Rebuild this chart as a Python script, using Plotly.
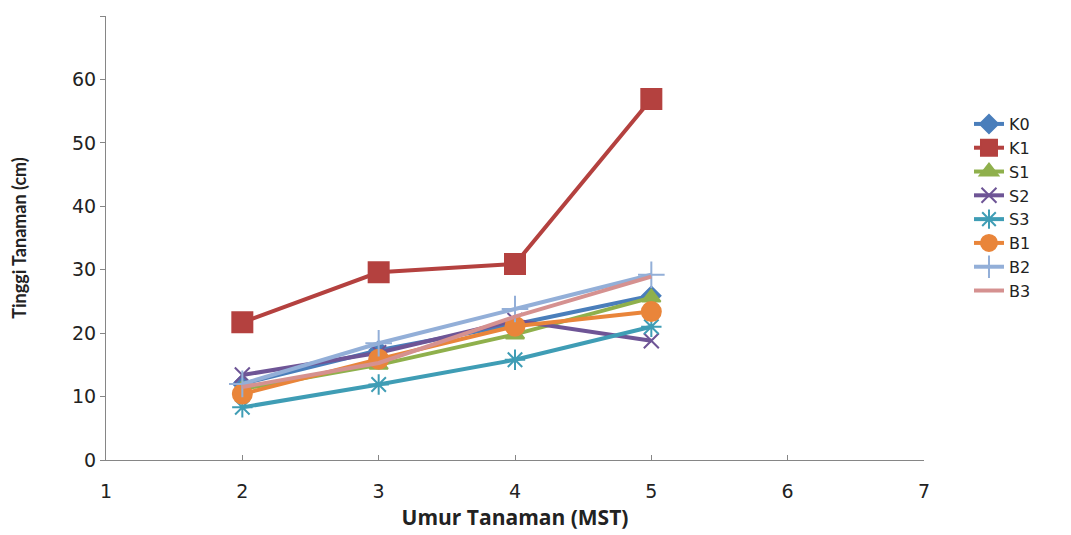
import plotly.graph_objects as go

weeks = [2, 3, 4, 5]
series_names = ["K0", "K1", "S1", "S2", "S3", "B1", "B2", "B3"]
K0 = [12.0, 17.3, 21.4, 25.9]
K1 = [21.7, 29.6, 30.9, 56.9]
S1 = [11.2, 15.0, 19.8, 25.6]
S2 = [13.4, 16.9, 22.0, 18.8]
S3 = [8.3, 11.9, 15.8, 21.0]
B1 = [10.4, 15.9, 21.1, 23.4]
B2 = [12.0, 18.4, 23.8, 29.2]
B3 = [11.5, 15.3, 22.6, 28.9]
values = [K0, K1, S1, S2, S3, B1, B2, B3]

x_ticks = [1, 2, 3, 4, 5, 6, 7]
y_ticks = [0, 10, 20, 30, 40, 50, 60]

colors = ["#4A7EBB", "#B4413F", "#8FB04C", "#6E5596", "#3F9DB5", "#E9853A", "#93AFD8", "#D59190"]
symbols = ["diamond", "square", "triangle-up", "x-thin-open", "asterisk-open", "circle", "cross-thin-open", None]
sizes = [14, 20, 16, 15, 17, 19, 19, 0]

fig = go.Figure()
for name, vals, c, s, sz in zip(series_names, values, colors, symbols, sizes):
    if s is None:
        fig.add_trace(go.Scatter(x=weeks, y=vals, name=name, mode="lines",
                                 line=dict(color=c, width=4)))
    else:
        fig.add_trace(go.Scatter(x=weeks, y=vals, name=name, mode="lines+markers",
                                 line=dict(color=c, width=4),
                                 marker=dict(symbol=s, size=sz, color=c,
                                             line=dict(color=c, width=2))))

axis_color = "#868686"
text_color = "#222222"
fig.update_layout(
    width=1071, height=535,
    margin=dict(l=98, r=155, t=8, b=83, autoexpand=False),
    paper_bgcolor="white", plot_bgcolor="white",
    font=dict(family="DejaVu Sans", size=17, color=text_color),
    legend=dict(x=1.055, y=0.795, xanchor="left", yanchor="top",
                font=dict(family="DejaVu Sans", size=16, color=text_color),
                tracegroupgap=0),
    xaxis=dict(range=[1, 7], tickvals=x_ticks, ticks="inside", ticklen=5,
               tickcolor=axis_color, showline=True, linecolor=axis_color, linewidth=1,
               showgrid=False, zeroline=False, automargin=False,
               ticklabelstandoff=14,
               tickfont=dict(family="DejaVu Sans", size=19, color=text_color),
               title=dict(text="<b>Umur Tanaman (MST)</b>",
                          font=dict(family="Open Sans", size=21, color=text_color),
                          standoff=9)),
    yaxis=dict(range=[0, 70], tickvals=y_ticks, ticks="outside", ticklen=5,
               tickcolor=axis_color, showline=True, linecolor=axis_color, linewidth=1,
               showgrid=False, zeroline=False, automargin=False,
               minor=dict(tickvals=[70], ticks="outside", ticklen=5, tickcolor=axis_color),
               tickfont=dict(family="DejaVu Sans", size=19, color=text_color),
               title=dict(text="<b>Tinggi Tanaman (cm)</b>",
                          font=dict(family="Lato", size=18, color=text_color),
                          standoff=40)),
)

fig.write_html("out.html")
